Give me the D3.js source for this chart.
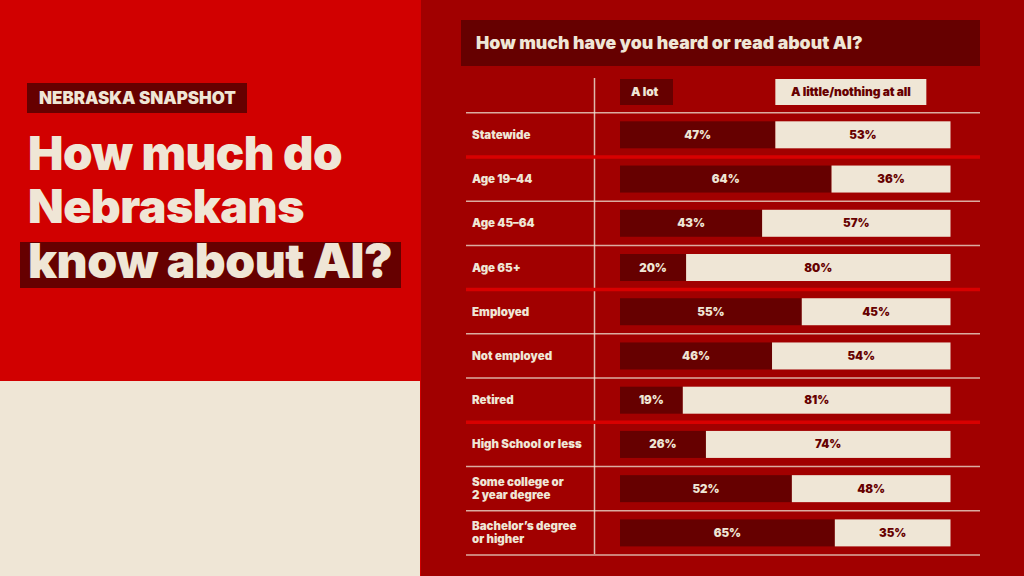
<!DOCTYPE html>
<html>
<head>
<meta charset="utf-8">
<script src="https://cdn.jsdelivr.net/npm/d3@7"></script>
<style>
  html, body { margin: 0; padding: 0; background: #a10000; }
  svg { display: block; }
  text { font-family: "Inter", "Open Sans", sans-serif; }
</style>
</head>
<body>
<svg id="chart" width="1024" height="576"></svg>
<script>
// ---- Data ----
const kicker = "NEBRASKA SNAPSHOT";
const titleLines = ["How much do", "Nebraskans", "know about AI?"];
const question = "How much have you heard or read about AI?";
const seriesNames = ["A lot", "A little/nothing at all"];
const categories = ["Statewide", "Age 19–44", "Age 45–64", "Age 65+", "Employed", "Not employed", "Retired", "High School or less", "Some college or\n2 year degree", "Bachelor’s degree\nor higher"];
const aLot = [47, 64, 43, 20, 55, 46, 19, 26, 52, 65];
const aLittle = [53, 36, 57, 80, 45, 54, 81, 74, 48, 35];
const groupEnds = ["Statewide", "Age 65+", "Retired"]; // rows followed by a group separator

// ---- Styles ----
const C = {
  red: "#d10000", panel: "#a10000", dark: "#660000", cream: "#efe6d6", sep: "#d80000"
};

const svg = d3.select("#chart");

// fit a text element to a target width by adjusting font-size
function fit(sel, w) {
  const n = sel.node();
  const cur = n.getComputedTextLength();
  const fs = parseFloat(sel.attr("font-size"));
  sel.attr("font-size", (fs * w / cur).toFixed(2));
}

// Left panel
svg.append("rect").attr("x", 0).attr("y", 0).attr("width", 421).attr("height", 576).attr("fill", C.red);
svg.append("rect").attr("x", 0).attr("y", 381).attr("width", 420).attr("height", 195).attr("fill", C.cream);
svg.append("rect").attr("x", 421).attr("y", 0).attr("width", 603).attr("height", 576).attr("fill", C.panel);

// Kicker
svg.append("rect").attr("x", 27).attr("y", 83).attr("width", 220).attr("height", 30).attr("fill", C.dark);
fit(svg.append("text").attr("x", 39).attr("y", 104).attr("fill", C.cream)
  .attr("font-size", 16).attr("font-weight", 900).text(kicker), 197);

// Title
svg.append("rect").attr("x", 20).attr("y", 242).attr("width", 381).attr("height", 46).attr("fill", C.dark);
const titleY = [170, 223, 278];
const titleW = [314, 276, 364];
titleLines.forEach((t, i) => {
  fit(svg.append("text").attr("x", 28).attr("y", titleY[i]).attr("fill", C.cream)
    .attr("font-size", 46).attr("font-weight", 900).attr("letter-spacing", -0.5).text(t), titleW[i]);
});

// Question header
svg.append("rect").attr("x", 461).attr("y", 20).attr("width", 519).attr("height", 46).attr("fill", C.dark);
fit(svg.append("text").attr("x", 476).attr("y", 49).attr("fill", C.cream)
  .attr("font-size", 16).attr("font-weight", 900).text(question), 387);

// Scales
const y = d3.scaleBand().domain(categories).range([112.7, 555]);
const x = d3.scaleLinear().domain([0, 100]).range([620, 950.5]);
const barH = 27;
const fsT = 11.5;

// Vertical divider
svg.append("line").attr("x1", 594.5).attr("x2", 594.5).attr("y1", 78).attr("y2", 554)
  .attr("stroke", C.cream).attr("stroke-opacity", 0.8).attr("stroke-width", 1.5);

// Legend
const legX = [x(0), x(47)];
const legW = [53, 151];
seriesNames.forEach((s, i) => {
  svg.append("rect").attr("x", legX[i]).attr("y", 79).attr("width", legW[i]).attr("height", 26)
    .attr("fill", i === 0 ? C.dark : C.cream);
  svg.append("text").attr("x", i === 0 ? legX[i] + 11 : legX[i] + legW[i] / 2).attr("y", 96)
    .attr("text-anchor", i === 0 ? "start" : "middle")
    .attr("fill", i === 0 ? C.cream : C.dark)
    .attr("font-size", 12).attr("font-weight", 900).attr("letter-spacing", -0.1).text(s);
});

// Top line
svg.append("line").attr("x1", 466).attr("x2", 980).attr("y1", y.range()[0]).attr("y2", y.range()[0])
  .attr("stroke", C.cream).attr("stroke-opacity", 0.75).attr("stroke-width", 1.5);

// Row separators
categories.forEach(c => {
  const yy = y(c) + y.bandwidth();
  const thick = groupEnds.includes(c);
  svg.append("line").attr("x1", 466).attr("x2", 980).attr("y1", yy).attr("y2", yy)
    .attr("stroke", thick ? C.sep : C.cream)
    .attr("stroke-opacity", thick ? 1 : 0.75)
    .attr("stroke-width", thick ? 3.5 : 1.5);
});

// Bars
const rows = svg.append("g").selectAll("g").data(categories).join("g")
  .attr("transform", c => `translate(0,${y(c) + y.bandwidth() / 2})`);

rows.append("rect").attr("x", x(0)).attr("y", -barH / 2)
  .attr("width", (c, i) => x(aLot[i]) - x(0)).attr("height", barH).attr("fill", C.dark);
rows.append("rect").attr("x", (c, i) => x(aLot[i])).attr("y", -barH / 2)
  .attr("width", (c, i) => x(aLot[i] + aLittle[i]) - x(aLot[i])).attr("height", barH).attr("fill", C.cream);

rows.append("text").attr("x", (c, i) => (x(0) + x(aLot[i])) / 2).attr("y", 4)
  .attr("text-anchor", "middle").attr("fill", C.cream).attr("font-size", fsT).attr("font-weight", 900)
  .text((c, i) => aLot[i] + "%");
rows.append("text").attr("x", (c, i) => (x(aLot[i]) + x(aLot[i] + aLittle[i])) / 2).attr("y", 4)
  .attr("text-anchor", "middle").attr("fill", C.dark).attr("font-size", fsT).attr("font-weight", 900)
  .text((c, i) => aLittle[i] + "%");

// Row labels
rows.each(function (c) {
  const lines = c.split("\n");
  const t = d3.select(this).append("text").attr("x", 472)
    .attr("fill", C.cream).attr("font-size", fsT).attr("font-weight", 900);
  const lh = 13;
  const y0 = 4 - (lines.length - 1) * lh / 2;
  lines.forEach((l, k) => {
    t.append("tspan").attr("x", 472).attr("y", y0 + k * lh).text(l);
  });
});
</script>
</body>
</html>
